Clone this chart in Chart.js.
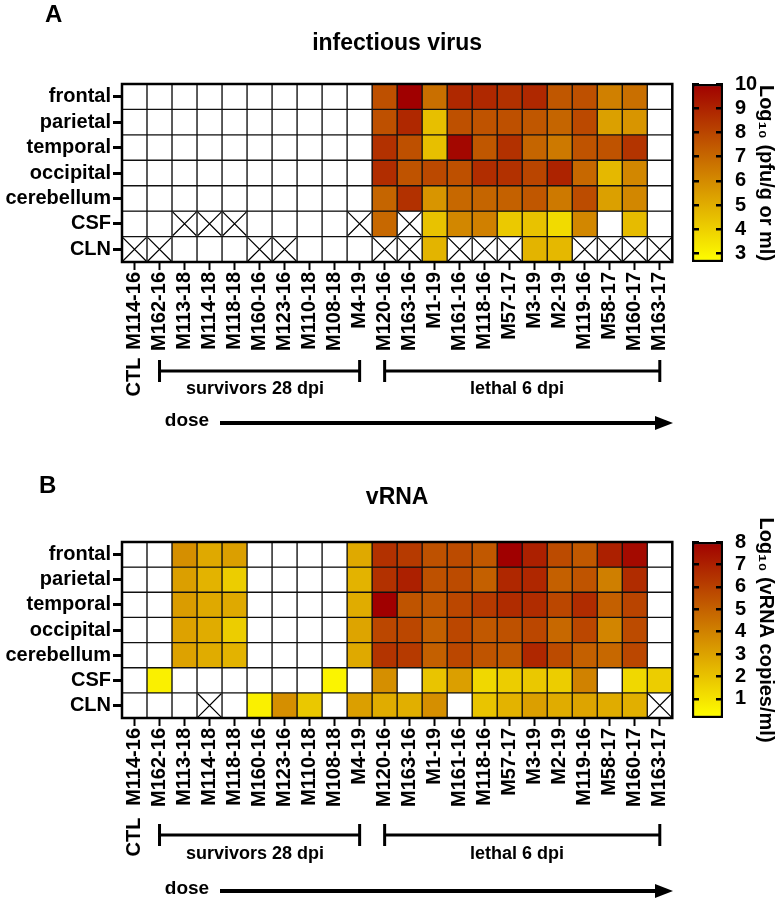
<!DOCTYPE html>
<html>
<head>
<meta charset="utf-8">
<script src="https://cdn.jsdelivr.net/npm/chart.js@4/dist/chart.umd.min.js"></script>
<style>
  body { margin: 0; background: #fff; }
  #page { position: relative; width: 782px; height: 900px; }
  .box { position: absolute; }
</style>
</head>
<body>
<div id="page">
  <div class="box" style="left:0;top:0;width:690px;height:440px"><canvas id="heatA"></canvas></div>
  <div class="box" style="left:686px;top:0;width:96px;height:300px"><canvas id="barA"></canvas></div>
  <div class="box" style="left:0;top:450px;width:690px;height:450px"><canvas id="heatB"></canvas></div>
  <div class="box" style="left:686px;top:450px;width:96px;height:350px"><canvas id="barB"></canvas></div>
</div>
<script>
const X = "x" // not tested: crossed cell

const samples = ["M114-16", "M162-16", "M113-18", "M114-18", "M118-18", "M160-16", "M123-16", "M110-18",
    "M108-18", "M4-19", "M120-16", "M163-16", "M1-19", "M161-16", "M118-16", "M57-17", "M3-19", "M2-19",
    "M119-16", "M58-17", "M160-17", "M163-17"]
const tissues = ["frontal", "parietal", "temporal", "occipital", "cerebellum", "CSF", "CLN"]

// groups under the x axis (column indexes)
const groupNames = ["survivors 28 dpi", "lethal 6 dpi"]
const groupFrom = [1, 10]
const groupTo = [9, 21]

// A: infectious virus, log10 pfu/g or ml (null = below detection)
const n = null
const virusFrontal    = [n, n, n, n, n, n, n, n, n, n, 7.7, 10.0, 6.8, 8.85, 8.85, 8.6, 8.85, 7.5, 7.7, 6.3, 6.8, n]
const virusParietal   = [n, n, n, n, n, n, n, n, n, n, 7.7, 8.85, 4.5, 7.7, 7.6, 7.7, 7.5, 7.1, 7.9, 5.4, 5.7, n]
const virusTemporal   = [n, n, n, n, n, n, n, n, n, n, 8.6, 7.7, 4.5, 9.8, 7.5, 8.6, 7.1, 6.5, 7.6, 7.6, 8.5, n]
const virusOccipital  = [n, n, n, n, n, n, n, n, n, n, 8.7, 7.6, 7.9, 7.7, 8.7, 8.6, 8.0, 9.0, 7.0, 4.7, 6.1, n]
const virusCerebellum = [n, n, n, n, n, n, n, n, n, n, 7.1, 8.6, 5.7, 7.0, 7.1, 7.2, 7.5, 6.5, 7.8, 5.4, 6.1, n]
const virusCSF        = [n, n, X, X, X, n, n, n, n, X, 7.0, X, 4.4, 6.1, 6.3, 4.2, 4.4, 3.7, 6.1, n, 4.6, n]
const virusCLN        = [X, X, n, n, n, X, X, n, n, n, X, X, 4.8, X, X, X, 4.8, 4.7, X, X, X, X]
const virusMin = 2.65
const virusMax = 10
const virusTicks = [3, 4, 5, 6, 7, 8, 9, 10]

// B: vRNA, log10 copies/ml
const rnaFrontal    = [n, n, 3.6, 2.8, 3.1, n, n, n, n, 2.8, 6.5, 6.2, 5.5, 5.7, 5.3, 8.0, 7.0, 5.7, 5.3, 7.0, 7.7, n]
const rnaParietal   = [n, n, 3.1, 2.5, 1.7, n, n, n, n, 2.5, 6.5, 7.0, 5.5, 5.7, 5.05, 6.8, 6.8, 5.05, 5.4, 4.1, 6.65, n]
const rnaTemporal   = [n, n, 3.2, 2.8, 2.8, n, n, n, n, 2.7, 8.0, 5.4, 5.3, 5.8, 6.2, 6.65, 6.65, 5.8, 6.65, 5.05, 5.9, n]
const rnaOccipital  = [n, n, 3.0, 2.7, 1.7, n, n, n, n, 2.95, 5.8, 5.8, 5.05, 5.8, 5.3, 5.5, 5.8, 4.8, 5.8, 3.9, 5.7, n]
const rnaCerebellum = [n, n, 3.0, 2.7, 2.5, n, n, n, n, 2.8, 6.4, 6.2, 5.05, 5.8, 5.4, 5.3, 6.8, 5.7, 5.05, 4.8, 5.8, n]
const rnaCSF        = [n, 0.6, n, n, n, n, n, n, 0.5, n, 3.6, n, 1.96, 3.1, 1.35, 1.7, 1.85, 1.7, 4.0, n, 1.35, 1.7]
const rnaCLN        = [n, n, n, X, n, 0.6, 3.6, 1.85, n, 3.1, 2.7, 2.6, 3.6, n, 1.96, 2.5, 3.1, 2.7, 2.95, 2.7, 2.6, X]
const rnaMin = 0.15
const rnaMax = 8
const rnaTicks = [1, 2, 3, 4, 5, 6, 7, 8]

const FONT = "'Liberation Sans', Arial, Helvetica, sans-serif"
Chart.defaults.font.family = FONT
Chart.defaults.color = "#000"

// yellow -> dark red, linear
function cellColor(v, min, max) {
    const f = Math.min(1, Math.max(0, (v - min) / (max - min)))
    return `rgb(${Math.round(255 - 95 * f)}, ${Math.round(255 * (1 - f))}, 0)`
}

const frame = {
    id: "frame",
    afterDatasetsDraw(chart) {
        const { ctx, chartArea: a } = chart
        ctx.save()
        ctx.lineWidth = 2.5
        ctx.strokeStyle = "#000"
        ctx.strokeRect(a.left, a.top, a.right - a.left, a.bottom - a.top)
        ctx.restore()
    }
}

// panel letter, title, CTL, group brackets, dose arrow
const notes = {
    id: "notes",
    afterDraw(chart, args, o) {
        const { ctx, chartArea: a } = chart
        const x = chart.scales.x
        ctx.save()
        ctx.fillStyle = "#000"
        ctx.strokeStyle = "#000"

        ctx.font = `bold 24px ${FONT}`
        ctx.textAlign = "left"
        ctx.textBaseline = "alphabetic"
        ctx.fillText(o.letter, o.letterX, o.letterY)

        ctx.font = `bold 23px ${FONT}`
        ctx.textAlign = "center"
        ctx.fillText(o.title, (a.left + a.right) / 2, o.titleY)

        ctx.save()
        ctx.translate(x.getPixelForValue(0), o.ctlY)
        ctx.rotate(-Math.PI / 2)
        ctx.font = `bold 20px ${FONT}`
        ctx.textBaseline = "middle"
        ctx.fillText("CTL", 0, 0)
        ctx.restore()

        ctx.lineWidth = 3
        ctx.font = `bold 18px ${FONT}`
        ctx.textBaseline = "middle"
        groupNames.forEach((name, i) => {
            const x1 = x.getPixelForValue(groupFrom[i])
            const x2 = x.getPixelForValue(groupTo[i])
            const y = o.bracketY
            ctx.beginPath()
            ctx.moveTo(x1, y - 11); ctx.lineTo(x1, y + 11)
            ctx.moveTo(x1, y); ctx.lineTo(x2, y)
            ctx.moveTo(x2, y - 11); ctx.lineTo(x2, y + 11)
            ctx.stroke()
            ctx.fillText(name, o.groupX[i], o.groupY)
        })

        ctx.font = `bold 19px ${FONT}`
        ctx.fillText("dose", 187, o.doseY)
        ctx.lineWidth = 4
        ctx.beginPath()
        ctx.moveTo(220, o.doseY + 2); ctx.lineTo(657, o.doseY + 2)
        ctx.stroke()
        ctx.beginPath()
        ctx.moveTo(655, o.doseY + 2 - 7); ctx.lineTo(673, o.doseY + 2); ctx.lineTo(655, o.doseY + 2 + 7)
        ctx.closePath()
        ctx.fill()
        ctx.restore()
    }
}

function heatmap(id, rows, min, max, padTop, padBottom, noteOpts) {
    const datasets = rows.map((values, i) => ({
        type: "bar",
        data: samples.map(() => [i, i + 1]),
        backgroundColor: values.map(v => typeof v === "number" ? cellColor(v, min, max) : "#fff"),
        borderColor: "#111",
        borderWidth: 1,
        borderSkipped: false,
        barPercentage: 1,
        categoryPercentage: 1,
        grouped: false
    }))

    const crosses = []
    rows.forEach((values, i) => values.forEach((v, j) => {
        if (v === X) crosses.push({ x: samples[j], y: i + 0.5 })
    }))
    datasets.push({
        type: "scatter",
        order: -1,
        data: crosses,
        pointStyle: "crossRot",
        pointRadius: 16.5,
        pointHoverRadius: 16.5,
        borderColor: "#000",
        pointBorderColor: "#000",
        borderWidth: 1.2,
        pointBorderWidth: 1.2,
        backgroundColor: "transparent"
    })

    new Chart(document.getElementById(id), {
        type: "bar",
        data: { labels: samples, datasets },
        options: {
            responsive: true,
            maintainAspectRatio: false,
            animation: false,
            events: [],
            layout: { padding: { top: padTop, right: 8, bottom: padBottom, left: 0 } },
            plugins: { legend: { display: false }, tooltip: { enabled: false }, notes: noteOpts },
            scales: {
                x: {
                    type: "category",
                    offset: true,
                    grid: { offset: false, drawOnChartArea: false, tickLength: 8, tickWidth: 2, tickColor: "#000" },
                    border: { display: false },
                    ticks: { autoSkip: false, maxRotation: 90, minRotation: 90, padding: 2, color: "#000",
                        font: { size: 20, weight: "bold" } },
                    afterFit: s => { s.height = 98 }
                },
                y: {
                    type: "linear",
                    min: 0,
                    max: tissues.length,
                    reverse: true,
                    afterBuildTicks: s => { s.ticks = tissues.map((t, i) => ({ value: i + 0.5 })) },
                    grid: { drawOnChartArea: false, tickLength: 9, tickWidth: 3, tickColor: "#000" },
                    border: { display: false },
                    ticks: { autoSkip: false, callback: (v, i) => tissues[i], padding: 2, color: "#000",
                        font: { size: 20, weight: "bold" } },
                    afterFit: s => { s.width = 122 }
                }
            }
        },
        plugins: [frame, notes]
    })
}

function colorbar(id, min, max, ticks, title, padTop, padBottom) {
    new Chart(document.getElementById(id), {
        type: "bar",
        data: {
            labels: [""],
            datasets: [{
                data: [[min, max]],
                backgroundColor: c => {
                    const a = c.chart.chartArea
                    if (!a) return "#fff"
                    const g = c.chart.ctx.createLinearGradient(0, a.bottom, 0, a.top)
                    g.addColorStop(0, cellColor(min, min, max))
                    g.addColorStop(1, cellColor(max, min, max))
                    return g
                },
                borderColor: "#000",
                borderWidth: 2.5,
                borderSkipped: false,
                barPercentage: 1,
                categoryPercentage: 1
            }]
        },
        options: {
            responsive: true,
            maintainAspectRatio: false,
            animation: false,
            events: [],
            layout: { padding: { top: padTop, right: 0, bottom: padBottom, left: 6 } },
            plugins: { legend: { display: false }, tooltip: { enabled: false } },
            scales: {
                x: { display: false },
                y: {
                    position: "right",
                    min: min,
                    max: max,
                    afterBuildTicks: s => { s.ticks = ticks.map(v => ({ value: v })) },
                    grid: { z: 1, color: "#000", lineWidth: 2.5, drawTicks: false },
                    border: { display: false, dash: [7, 17] },
                    ticks: { autoSkip: false, padding: 12, color: "#000", font: { size: 20, weight: "bold" } },
                    title: { display: true, text: title, color: "#000", font: { size: 20, weight: "bold" },
                        padding: { top: 4, bottom: 0 } },
                    afterFit: s => { s.width = 59 }
                }
            }
        }
    })
}

heatmap("heatA",
    [virusFrontal, virusParietal, virusTemporal, virusOccipital, virusCerebellum, virusCSF, virusCLN],
    virusMin, virusMax, 84, 80,
    { letter: "A", letterX: 45, letterY: 22, title: "infectious virus", titleY: 50,
      ctlY: 377, bracketY: 371, groupX: [255, 517], groupY: 389, doseY: 421 })

heatmap("heatB",
    [rnaFrontal, rnaParietal, rnaTemporal, rnaOccipital, rnaCerebellum, rnaCSF, rnaCLN],
    rnaMin, rnaMax, 92, 84,
    { letter: "B", letterX: 39, letterY: 43, title: "vRNA", titleY: 54,
      ctlY: 387, bracketY: 385, groupX: [255, 517], groupY: 404, doseY: 439 })

colorbar("barA", virusMin, virusMax, virusTicks, "Log\u2081\u2080 (pfu/g or ml)", 84, 38)
colorbar("barB", rnaMin, rnaMax, rnaTicks, "Log\u2081\u2080 (vRNA copies/ml)", 92, 82)
</script>
</body>
</html>
